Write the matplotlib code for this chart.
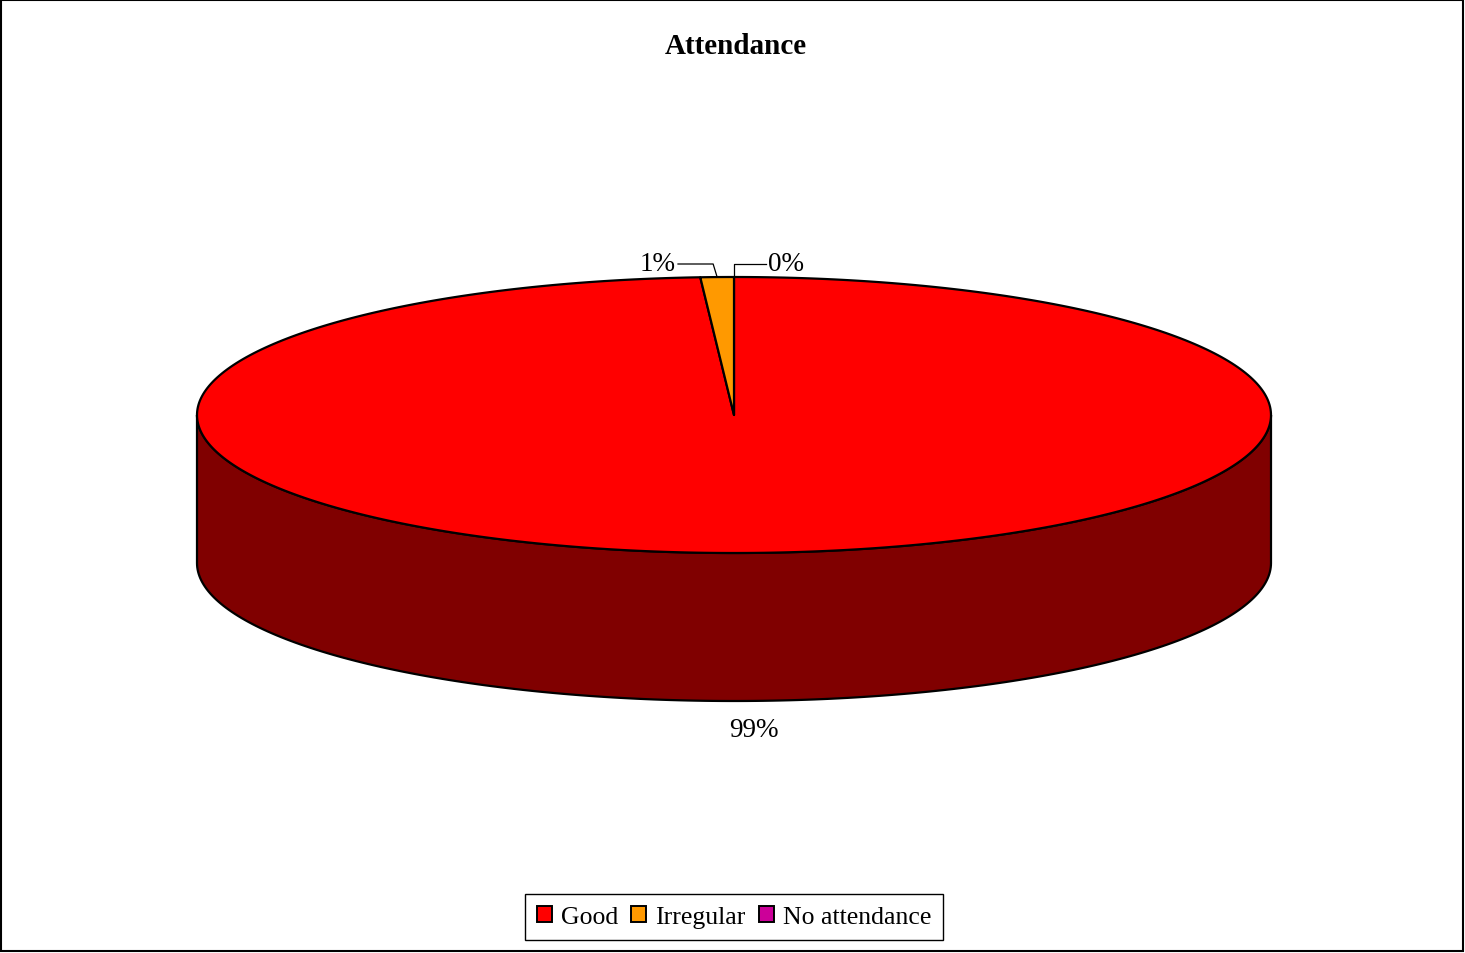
import matplotlib.pyplot as plt
import numpy as np
from matplotlib.patches import Polygon, Rectangle, Patch

plt.rcParams["font.family"] = ["Liberation Serif", "DejaVu Serif"]

categories = ["Good", "Irregular", "No attendance"]
values = [99, 1, 0]
labels = ["99%", "1%", "0%"]
top_colors = ["#FF0000", "#FF9900", "#CC0099"]
side_colors = ["#800000", "#804C00", "#66004C"]

W, H = 1465, 954
fig = plt.figure(figsize=(W / 100, H / 100), dpi=100)
ax = fig.add_axes([0, 0, 1, 1])
ax.set_xlim(0, W)
ax.set_ylim(H, 0)
ax.axis("off")

# pie geometry (pixels, y pointing down)
cx, cy = 734, 416
rx, ry = 537, 138
depth = 148


def pt(theta, dz=0.0):
    t = np.radians(theta)
    return cx + rx * np.cos(t), cy - ry * np.sin(t) + dz


# slice angles: start at 12 o'clock, go clockwise
fracs = np.array(values, dtype=float) / sum(values)
starts = 90 - 360 * np.concatenate([[0], np.cumsum(fracs)[:-1]])
ends = starts - 360 * fracs

# side walls: only the front half (180..360 deg) is visible
for s, e, col in zip(starts, ends, side_colors):
    if s == e:
        continue
    lo, hi = e, s
    for shift in (-720, -360, 0, 360):
        a0 = max(lo + shift, 180)
        a1 = min(hi + shift, 360)
        if a1 <= a0:
            continue
        th = np.linspace(a0, a1, 200)
        upper = np.array([pt(t) for t in th])
        lower = np.array([pt(t, depth) for t in th[::-1]])
        ax.add_patch(Polygon(np.vstack([upper, lower]), closed=True,
                             facecolor=col, edgecolor="black", linewidth=1.6,
                             joinstyle="round"))

# top faces
for s, e, col in zip(starts, ends, top_colors):
    if s == e:
        continue
    th = np.linspace(s, e, 400)
    rim = np.array([pt(t) for t in th])
    verts = np.vstack([[cx, cy], rim])
    ax.add_patch(Polygon(verts, closed=True, facecolor=col,
                         edgecolor="black", linewidth=1.6, joinstyle="round"))

# data labels
txt = dict(fontsize=19.5, color="black")
mid = (starts + ends) / 2
# Good: below the front wall
ax.text(754, 731, labels[0], ha="center", va="center", **txt)
# Irregular: leader to the left
x1, y1 = pt(mid[1])
ax.plot([x1, x1 - 4, 678], [y1, 265, 265], color="black", linewidth=0.9)
ax.text(676, 265, labels[1], ha="right", va="center", **txt)
# No attendance: leader to the right
x2, y2 = pt(mid[2])
ax.plot([x2, x2, 766], [y2, 265, 265], color="black", linewidth=0.9)
ax.text(768, 265, labels[2], ha="left", va="center", **txt)

ax.text(W / 2 + 3, 47, "Attendance", ha="center", va="center",
        fontsize=21, fontweight="bold")

handles = [Patch(facecolor=c, edgecolor="black", linewidth=1.4) for c in top_colors]
leg = ax.legend(handles, categories, loc="center",
                bbox_to_anchor=(734 / W, 1 - 918 / H), ncol=3, fontsize=18.5,
                frameon=True, fancybox=False, edgecolor="black",
                handlelength=0.6, handleheight=0.6, handletextpad=0.35,
                columnspacing=0.5, borderpad=0.45, borderaxespad=0,
                framealpha=1)
leg.get_frame().set_linewidth(1.0)

# chart border
ax.add_patch(Rectangle((1, 1), W - 3, H - 3, fill=False,
                       edgecolor="black", linewidth=1.5))

fig.savefig("out.png", dpi=100)
